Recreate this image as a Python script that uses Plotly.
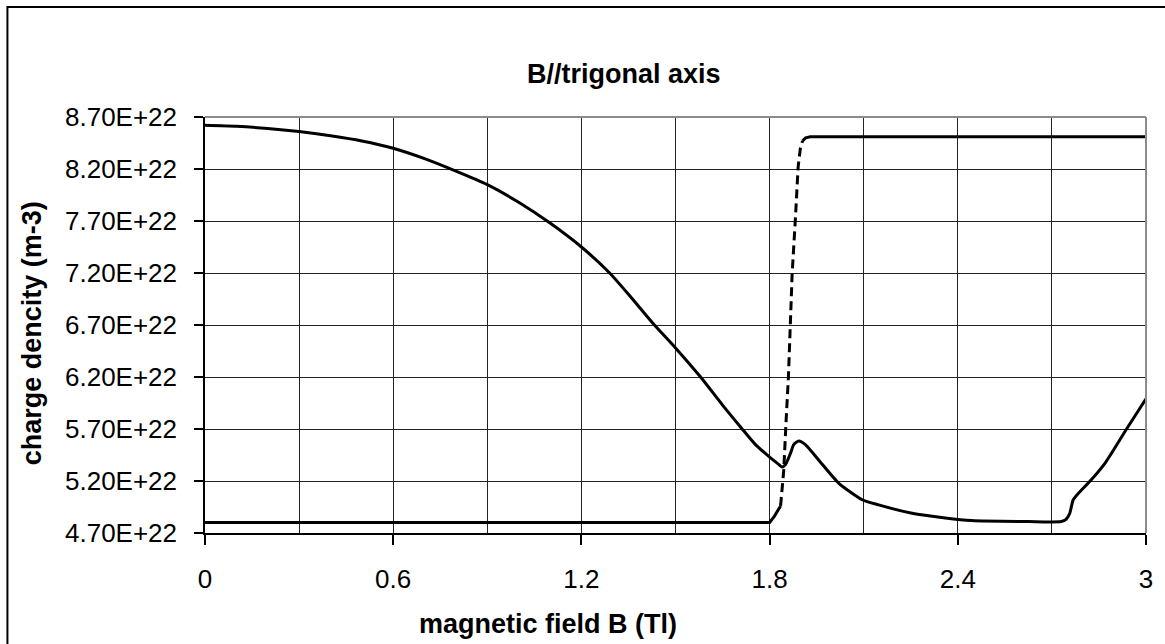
import plotly.graph_objects as go

# ---- data ----
SCALE = 1e22
B1 = [0, 0.1, 0.2, 0.3, 0.4, 0.5, 0.6, 0.7, 0.8, 0.9, 1.0, 1.1, 1.2, 1.29, 1.36,
      1.43, 1.5, 1.58, 1.65, 1.71, 1.755, 1.8, 1.825, 1.84, 1.851, 1.867, 1.877,
      1.893, 1.914, 1.957, 2.02, 2.095, 2.148, 2.254, 2.36, 2.444, 2.625, 2.73,
      2.745, 2.757, 2.768, 2.79, 2.816, 2.869, 2.938, 3.0]
n1 = [8.62, 8.61, 8.59, 8.56, 8.52, 8.47, 8.40, 8.30, 8.18, 8.05, 7.88, 7.68, 7.45,
      7.20, 6.96, 6.71, 6.48, 6.20, 5.93, 5.71, 5.55, 5.43, 5.37, 5.335, 5.36, 5.47,
      5.55, 5.585, 5.55, 5.40, 5.18, 5.02, 4.97, 4.89, 4.845, 4.82, 4.81, 4.81,
      4.83, 4.89, 5.02, 5.10, 5.18, 5.37, 5.70, 5.99]

B2 = [0, 1.80, 1.815, 1.835, 1.845, 1.853, 1.86, 1.866, 1.872, 1.882, 1.891,
      1.898, 1.905, 1.915, 1.93, 3.0]
n2 = [4.80, 4.80, 4.86, 4.96, 5.30, 5.80, 6.20, 6.70, 7.20, 7.71, 8.22, 8.40,
      8.47, 8.50, 8.51, 8.51]
dash_start, dash_end = 3, 12   # steep part of series 2 rendered dashed

x_tickvals = [0, 0.6, 1.2, 1.8, 2.4, 3.0]
x_ticktext = ["0", "0.6", "1.2", "1.8", "2.4", "3"]
y_tickvals = [4.7, 5.2, 5.7, 6.2, 6.7, 7.2, 7.7, 8.2, 8.7]
y_ticktext = ["4.70E+22", "5.20E+22", "5.70E+22", "6.20E+22", "6.70E+22",
              "7.20E+22", "7.70E+22", "8.20E+22", "8.70E+22"]

title_text = "B//trigonal axis"
xtitle_text = "magnetic field B (Tl)"
ytitle_text = "charge dencity (m-3)"

# ---- layout geometry (pixels) ----
W, H = 1165, 644
L, R, T, Bm = 205, 1148, 117, 533
FONT = "Liberation Sans, Arial, sans-serif"


def px_x(p):
    return (p - L) / (R - L)


def px_y(p):
    return (Bm - p) / (Bm - T)


fig = go.Figure()
line_style = dict(color="black", width=3)
fig.add_trace(go.Scatter(x=B1, y=[v * SCALE for v in n1], mode="lines",
                         line=dict(color="black", width=3, shape="spline", smoothing=0.6),
                         showlegend=False))
fig.add_trace(go.Scatter(x=B2[:dash_start + 1], y=[v * SCALE for v in n2[:dash_start + 1]],
                         mode="lines", line=line_style, showlegend=False))
fig.add_trace(go.Scatter(x=B2[dash_start:dash_end + 1],
                         y=[v * SCALE for v in n2[dash_start:dash_end + 1]],
                         mode="lines", line=dict(color="black", width=3, dash="9px,5px"),
                         showlegend=False))
fig.add_trace(go.Scatter(x=B2[dash_end:], y=[v * SCALE for v in n2[dash_end:]],
                         mode="lines", line=line_style, showlegend=False))

fig.update_layout(
    width=W, height=H,
    margin=dict(l=L, r=W - R, t=T, b=H - Bm, pad=0),
    paper_bgcolor="white", plot_bgcolor="white",
    font=dict(family=FONT, size=26, color="black"),
    showlegend=False,
    xaxis=dict(range=[0, 3], tickvals=x_tickvals, ticktext=x_ticktext,
               ticks="outside", ticklen=10, tickwidth=1.5, tickcolor="black",
               showline=True, linecolor="black", linewidth=1.5,
               showgrid=True, gridcolor="#222222", gridwidth=1.2,
               minor=dict(dtick=0.3, tick0=0, showgrid=True, gridcolor="#222222",
                          gridwidth=1.2, ticks=""),
               zeroline=False, ticklabelstandoff=12,
               tickfont=dict(size=26)),
    yaxis=dict(range=[4.7 * SCALE, 8.7 * SCALE],
               tickvals=[v * SCALE for v in y_tickvals], ticktext=y_ticktext,
               ticks="outside", ticklen=9, tickwidth=1.5, tickcolor="black",
               showline=True, linecolor="black", linewidth=1.5,
               showgrid=True, gridcolor="#222222", gridwidth=1.2,
               zeroline=False, ticklabelstandoff=12,
               tickfont=dict(size=26)),
    shapes=[
        # plot-area top/right border (gray)
        dict(type="line", xref="paper", yref="paper", x0=0, x1=1, y0=1, y1=1,
             line=dict(color="#8c8c8c", width=2)),
        dict(type="line", xref="paper", yref="paper", x0=1, x1=1, y0=0, y1=1,
             line=dict(color="#8c8c8c", width=2)),
        # chart-area border (top and left visible, rest clipped)
        dict(type="rect", xref="paper", yref="paper",
             x0=px_x(7), x1=px_x(W + 20), y0=px_y(H + 20), y1=px_y(7),
             line=dict(color="black", width=2)),
    ],
    annotations=[
        dict(text="<b>%s</b>" % title_text, xref="paper", yref="paper",
             x=px_x(625), y=px_y(74), showarrow=False,
             xanchor="center", yanchor="middle", font=dict(size=27)),
        dict(text="<b>%s</b>" % xtitle_text, xref="paper", yref="paper",
             x=px_x(549), y=px_y(624), showarrow=False,
             xanchor="center", yanchor="middle", font=dict(size=27)),
        dict(text="<b>%s</b>" % ytitle_text, xref="paper", yref="paper",
             x=px_x(32), y=px_y(333), showarrow=False, textangle=-90,
             xanchor="center", yanchor="middle", font=dict(size=27)),
    ],
)

fig.write_html("out.html")
